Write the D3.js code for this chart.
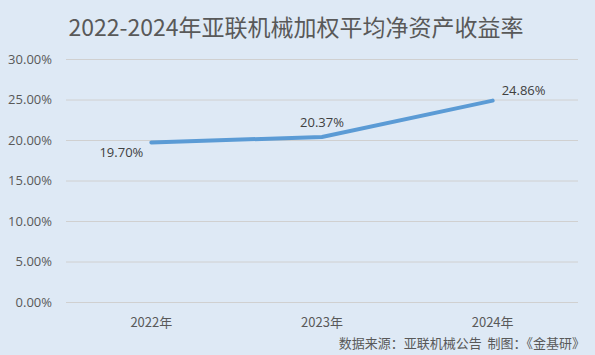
<!DOCTYPE html>
<html><head><meta charset="utf-8">
<script src="https://cdn.jsdelivr.net/npm/d3@7"></script>
<style>body{margin:0;background:#dee9f5;}svg{display:block;}</style>
</head><body>
<svg id="c" width="595" height="355"></svg>
<script>
const categories = ["2022年","2023年","2024年"];
const values = [19.70, 20.37, 24.86];
const yTicks = [0,5,10,15,20,25,30];
const title = "2022-2024年亚联机械加权平均净资产收益率";
const source = "数据来源：亚联机械公告  制图：《金基研》";

const W=595,H=355, m={l:66,r:17,t:59,b:53};
const svg=d3.select("#c");
const font="'Noto Sans CJK SC','Open Sans',sans-serif";
svg.append("rect").attr("width",W).attr("height",H).attr("fill","#dee9f5");
const x=d3.scaleBand().domain(categories).range([m.l,W-m.r]);
const y=d3.scaleLinear().domain([0,30]).range([H-m.b,m.t]);

svg.append("text").attr("x",296).attr("y",36).attr("text-anchor","middle")
  .attr("font-family",font).attr("font-size",23).attr("font-weight",400).attr("fill","#595959").text(title);

const ga=svg.append("g").attr("transform",`translate(${m.l},0)`)
  .call(d3.axisLeft(y).tickValues(yTicks).tickSize(-(W-m.l-m.r)).tickFormat(d=>d.toFixed(2)+"%"));
ga.select(".domain").remove();
ga.selectAll(".tick line").attr("stroke","#d0d0d0").attr("stroke-width",1);
ga.selectAll(".tick text").attr("x",-14).attr("fill","#595959").attr("font-size",13)
  .attr("font-family","'Open Sans',sans-serif");

const gx=svg.append("g").attr("transform",`translate(0,${H-m.b})`)
  .call(d3.axisBottom(x).tickSize(0));
gx.select(".domain").remove();
gx.selectAll(".tick text").attr("dy",0).attr("y",25).attr("fill","#595959").attr("font-size",13)
  .attr("font-family",font);

const line=d3.line().x((d,i)=>x(categories[i])+x.bandwidth()/2).y(d=>y(d));
svg.append("path").datum(values).attr("d",line).attr("fill","none")
  .attr("stroke","#5b9bd5").attr("stroke-width",4).attr("stroke-linecap","round");

const lab=[{dx:-8,dy:10,a:"end"},{dx:0,dy:-15,a:"middle"},{dx:9,dy:-10,a:"start"}];
svg.selectAll(".lbl").data(values).enter().append("text")
  .attr("x",(d,i)=>x(categories[i])+x.bandwidth()/2+lab[i].dx)
  .attr("y",(d,i)=>y(d)+lab[i].dy).attr("dy","0.35em")
  .attr("text-anchor",(d,i)=>lab[i].a).attr("font-size",13).attr("fill","#404040")
  .attr("font-family","'Open Sans',sans-serif").text(d=>d.toFixed(2)+"%");

svg.append("text").attr("x",585).attr("y",348).attr("text-anchor","end").attr("xml:space","preserve")
  .style("white-space","pre")
  .attr("font-family",font).attr("font-size",13).attr("fill","#595959").text(source);
</script>
</body></html>
